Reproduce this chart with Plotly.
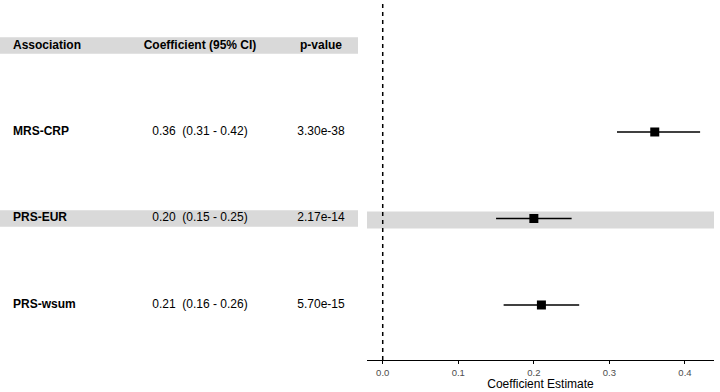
import plotly.graph_objects as go

# ---- data ----
associations = ["MRS-CRP", "PRS-EUR", "PRS-wsum"]
coef = [0.36, 0.20, 0.21]
ci_low = [0.31, 0.15, 0.16]
ci_high = [0.42, 0.25, 0.26]
pvalues = ["3.30e-38", "2.17e-14", "5.70e-15"]
row_pos = [3, 2, 1]
header_pos = 4
headers = ["Association", "Coefficient (95% CI)", "p-value"]
tick_vals = [0.0, 0.1, 0.2, 0.3, 0.4]
tick_text = ["0.0", "0.1", "0.2", "0.3", "0.4"]
highlight_row = "PRS-EUR"

W, H = 720, 392
FONT = "Liberation Sans, Arial, Helvetica, sans-serif"
GREY = "#d9d9d9"

fig = go.Figure()

# table columns (x in table-axis units 0..1 over left domain)
col_x = [13 / 358, 200 / 358, 321 / 358]
ci_text = [f"{c:.2f}  ({l:.2f} - {h:.2f})" for c, l, h in zip(coef, ci_low, ci_high)]

# header
fig.add_trace(go.Scatter(
    x=[col_x[0]], y=[header_pos], text=[f"<b>{headers[0]}</b>"], mode="text",
    textposition="middle right", xaxis="x", yaxis="y", showlegend=False, hoverinfo="skip",
    textfont=dict(family=FONT, size=12, color="black")))
fig.add_trace(go.Scatter(
    x=col_x[1:], y=[header_pos, header_pos], text=[f"<b>{h}</b>" for h in headers[1:]], mode="text",
    textposition="middle center", xaxis="x", yaxis="y", showlegend=False, hoverinfo="skip",
    textfont=dict(family=FONT, size=12, color="black")))
# rows
fig.add_trace(go.Scatter(
    x=[col_x[0]] * 3, y=row_pos, text=[f"<b>{a}</b>" for a in associations], mode="text",
    textposition="middle right", xaxis="x", yaxis="y", showlegend=False, hoverinfo="skip",
    textfont=dict(family=FONT, size=12, color="black")))
fig.add_trace(go.Scatter(
    x=[col_x[1]] * 3, y=row_pos, text=ci_text, mode="text",
    textposition="middle center", xaxis="x", yaxis="y", showlegend=False, hoverinfo="skip",
    textfont=dict(family=FONT, size=12, color="black")))
fig.add_trace(go.Scatter(
    x=[col_x[2]] * 3, y=row_pos, text=pvalues, mode="text",
    textposition="middle center", xaxis="x", yaxis="y", showlegend=False, hoverinfo="skip",
    textfont=dict(family=FONT, size=12, color="black")))

# forest plot
fig.add_trace(go.Scatter(
    x=coef, y=row_pos, mode="markers", xaxis="x2", yaxis="y", showlegend=False,
    marker=dict(symbol="square", size=9, color="black"),
    error_x=dict(type="data", symmetric=False,
                 array=[h - c for h, c in zip(ci_high, coef)],
                 arrayminus=[c - l for c, l in zip(coef, ci_low)],
                 color="black", thickness=1.4, width=0)))

hl = row_pos[associations.index(highlight_row)]
shapes = [
    # header band (table)
    dict(type="rect", xref="x domain", yref="y", x0=0, x1=1, y0=header_pos - 0.095, y1=header_pos + 0.095,
         fillcolor=GREY, line=dict(width=0), layer="below"),
    # highlighted row (table)
    dict(type="rect", xref="x domain", yref="y", x0=0, x1=1, y0=hl - 0.095, y1=hl + 0.095,
         fillcolor=GREY, line=dict(width=0), layer="below"),
    # highlighted row (plot)
    dict(type="rect", xref="x2 domain", yref="y", x0=0, x1=1, y0=hl - 0.116, y1=hl + 0.081,
         fillcolor=GREY, line=dict(width=0), layer="below"),
    # zero reference line
    dict(type="line", xref="x2", yref="y domain", x0=0, x1=0, y0=0, y1=1,
         line=dict(color="black", width=1.5, dash="4px,4px"), layer="above"),
]

fig.update_layout(
    width=W, height=H,
    margin=dict(l=0, r=0, t=0, b=32),
    paper_bgcolor="white", plot_bgcolor="white",
    shapes=shapes,
    hovermode=False,
    xaxis=dict(domain=[0, 358 / 720], range=[0, 1], visible=False, fixedrange=True),
    xaxis2=dict(domain=[367 / 720, 714 / 720], range=[-0.0208, 0.4384], anchor="y",
                showline=True, linecolor="black", linewidth=1.2, showgrid=False, zeroline=False,
                ticks="outside", ticklen=3, tickcolor="black", tickwidth=1,
                tickvals=tick_vals, ticktext=tick_text,
                tickfont=dict(family=FONT, size=9.5, color="#4d4d4d"),
                title=dict(text="Coefficient Estimate", standoff=2,
                           font=dict(family=FONT, size=12, color="black"))),
    yaxis=dict(range=[0.364, 4.526], visible=False, fixedrange=True),
    font=dict(family=FONT),
)

fig.write_html("out.html", config={"displayModeBar": False},
               post_script="document.body.style.margin='0';document.body.style.padding='0';")
